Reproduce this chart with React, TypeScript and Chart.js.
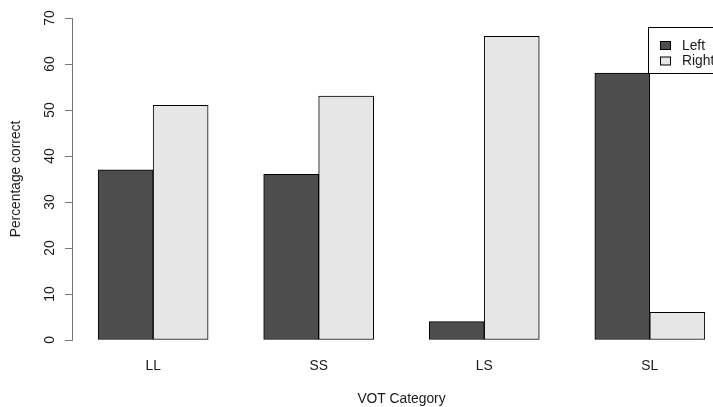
import React, { useEffect, useRef } from "react";
import { Chart, registerables } from "chart.js";

Chart.register(...registerables);

const categories = ["LL", "SS", "LS", "SL"];
const groupCenters = [2, 5, 8, 11];
const leftValues = [37, 36, 4, 58];
const rightValues = [51, 53, 66, 6];
const seriesNames = ["Left", "Right"];
const seriesColors = ["#4d4d4d", "#e6e6e6"];
const yTicks = [0, 10, 20, 30, 40, 50, 60, 70];
const xTitle = "VOT Category";
const yTitle = "Percentage correct";

const FONT_FAMILY = '"Liberation Sans", Arial, sans-serif';
const FONT_SIZE = 13.8;
const FONT = `${FONT_SIZE}px ${FONT_FAMILY}`;
const TEXT_COLOR = "#1a1a1a";
const AXIS_COLOR = "#777777";

const textPlugin = {
  id: "rText",
  afterDraw(chart: any) {
    const ctx = chart.ctx as CanvasRenderingContext2D;
    const ys = chart.scales.y;
    const xs = chart.scales.x;
    ctx.save();
    ctx.fillStyle = TEXT_COLOR;
    ctx.font = FONT;
    ctx.textAlign = "center";
    ctx.textBaseline = "middle";
    // y tick labels, rotated like R (las = 0)
    yTicks.forEach((v) => {
      const py = ys.getPixelForValue(v);
      ctx.save();
      ctx.translate(ys.right - 22, py);
      ctx.rotate(-Math.PI / 2);
      ctx.fillText(String(v), 0, 0);
      ctx.restore();
    });
    // y title
    ctx.save();
    ctx.translate(16, (ys.top + ys.bottom) / 2);
    ctx.rotate(-Math.PI / 2);
    ctx.fillText(yTitle, 0, 0);
    ctx.restore();
    // x title (centred on R's plot region)
    ctx.fillText(xTitle, xs.getPixelForValue(6.5), 399);

    // legend
    const lx = 648;
    const ly = 27;
    ctx.fillStyle = "#ffffff";
    ctx.fillRect(lx, ly, 120, 46);
    ctx.strokeStyle = "#000000";
    ctx.lineWidth = 1;
    ctx.strokeRect(lx + 0.5, ly + 0.5, 120, 46);
    seriesNames.forEach((name, i) => {
      const by = ly + 14.5 + i * 15.5;
      ctx.fillStyle = seriesColors[i];
      ctx.fillRect(lx + 12.5, by, 10, 8);
      ctx.strokeStyle = "#000000";
      ctx.strokeRect(lx + 12.5, by, 10, 8);
      ctx.fillStyle = TEXT_COLOR;
      ctx.textAlign = "left";
      ctx.fillText(name, lx + 34, by + 4.5);
    });
    ctx.restore();
  },
};

export default function App() {
  const canvasRef = useRef<HTMLCanvasElement | null>(null);

  useEffect(() => {
    if (!canvasRef.current) return;
    const chart = new Chart(canvasRef.current, {
      type: "bar",
      data: {
        datasets: [
          {
            label: seriesNames[0],
            data: groupCenters.map((x, i) => ({ x, y: leftValues[i] })),
            backgroundColor: seriesColors[0],
            borderColor: "#000000",
            borderWidth: 1,
            borderSkipped: false,
            barThickness: 55,
          },
          {
            label: seriesNames[1],
            data: groupCenters.map((x, i) => ({ x, y: rightValues[i] })),
            backgroundColor: seriesColors[1],
            borderColor: "#000000",
            borderWidth: 1,
            borderSkipped: false,
            barThickness: 55,
          },
        ] as any,
      },
      options: {
        animation: false,
        responsive: true,
        maintainAspectRatio: false,
        layout: { padding: { top: 18, right: 0, left: 0, bottom: 0 } },
        plugins: {
          legend: { display: false },
          tooltip: { enabled: false },
        },
        scales: {
          x: {
            type: "linear",
            min: 0.53,
            max: 12.145,
            offset: false,
            grid: { display: false, drawTicks: false },
            border: { display: false },
            afterBuildTicks: (scale: any) => {
              scale.ticks = groupCenters.map((v) => ({ value: v }));
            },
            afterFit: (scale: any) => {
              scale.height = 67;
            },
            ticks: {
              autoSkip: false,
              maxRotation: 0,
              minRotation: 0,
              padding: 18,
              color: TEXT_COLOR,
              font: { family: FONT_FAMILY, size: FONT_SIZE },
              callback: (value: any) => {
                const idx = groupCenters.indexOf(Number(value));
                return idx >= 0 ? categories[idx] : "";
              },
            },
          },
          y: {
            type: "linear",
            min: 0,
            max: 70,
            afterBuildTicks: (scale: any) => {
              scale.ticks = yTicks.map((v) => ({ value: v }));
            },
            afterFit: (scale: any) => {
              scale.width = 72;
            },
            grid: {
              display: true,
              drawOnChartArea: false,
              drawTicks: true,
              tickLength: 7,
              color: AXIS_COLOR,
              lineWidth: 1,
            },
            border: { display: true, color: AXIS_COLOR, width: 1 },
            ticks: { display: false },
          },
        },
      } as any,
      plugins: [textPlugin],
    });
    return () => chart.destroy();
  }, []);

  return (
    <div
      style={{
        position: "fixed",
        left: 0,
        top: 0,
        width: 713,
        height: 407,
        background: "#ffffff",
      }}
    >
      <canvas ref={canvasRef} />
    </div>
  );
}
